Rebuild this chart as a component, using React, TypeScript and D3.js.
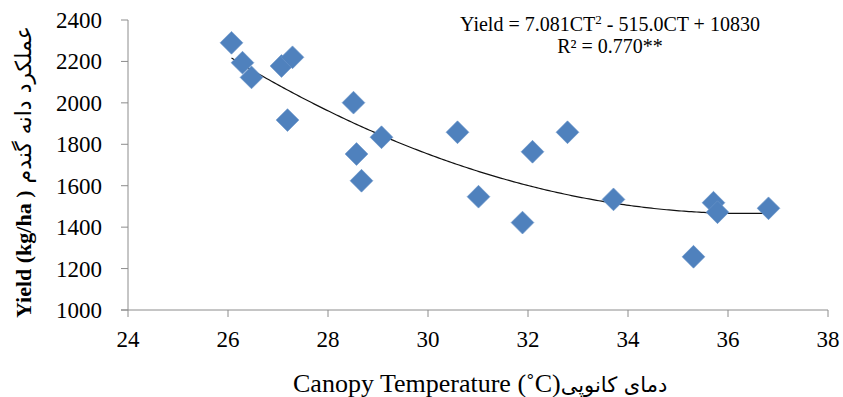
import React, { useEffect } from 'react';
import * as d3 from 'd3';

// canopy temperature (°C) and grain yield (kg/ha)
const temperature = [26.07, 26.29, 26.47, 27.07, 27.29, 27.19, 28.51, 28.57, 28.67, 29.07,
  30.59, 31.01, 31.89, 32.09, 32.79, 33.71, 35.31, 35.71, 35.79, 36.81];
const grainYield = [2290, 2194, 2123, 2178, 2220, 1917, 2001, 1753, 1624, 1834,
  1858, 1547, 1422, 1764, 1858, 1534, 1257, 1518, 1472, 1491];

const xTicks = [24, 26, 28, 30, 32, 34, 36, 38];
const yTicks = [1000, 1200, 1400, 1600, 1800, 2000, 2200, 2400];

// quadratic trend: a*CT^2 + b*CT + c
const trendCoef = [7.081, -515.0, 10830];

const W = 843;
const H = 397;
const serif = '"Liberation Serif", "Times New Roman", serif';
const arabic = '"DejaVu Sans", sans-serif';
const axisColor = '#8c8c8c';

export default function App() {
  useEffect(() => {
    document.body.style.margin = '0';
  }, []);

  const x = d3.scaleLinear().domain([24, 38]).range([128, 828]);
  const y = d3.scaleLinear().domain([1000, 2400]).range([310, 20]);

  const points = temperature.map((t, i) => ({ t, v: grainYield[i] }));

  const [a, b, c] = trendCoef;
  const tMin = d3.min(temperature) as number;
  const tMax = d3.max(temperature) as number;
  const curve = d3.range(tMin, tMax, 0.05).concat([tMax]).map(t => ({ t, v: a * t * t + b * t + c }));
  const line = d3.line<{ t: number; v: number }>().x(d => x(d.t)).y(d => y(d.v));

  const diamond = d3.symbol().type(d3.symbolSquare).size(260)();

  return (
    <svg width={W} height={H} style={{ display: 'block', background: '#fff' }}>
      {/* axes */}
      <line x1={x(24)} x2={x(24)} y1={y(2400)} y2={y(1000)} stroke={axisColor} strokeWidth={1} />
      <line x1={x(24) - 7} x2={x(38)} y1={y(1000)} y2={y(1000)} stroke={axisColor} strokeWidth={1} />
      {yTicks.map(v => (
        <g key={'y' + v}>
          <line x1={x(24) - 7} x2={x(24)} y1={y(v)} y2={y(v)} stroke={axisColor} />
          <text x={102} y={y(v)} dy="0.35em" textAnchor="end" fontFamily={serif} fontSize={23} fill="#000">{v}</text>
        </g>
      ))}
      {xTicks.map(t => (
        <g key={'x' + t}>
          <line x1={x(t)} x2={x(t)} y1={y(1000)} y2={y(1000) + 7} stroke={axisColor} />
          <text x={x(t)} y={347} textAnchor="middle" fontFamily={serif} fontSize={23} fill="#000">{t}</text>
        </g>
      ))}

      {/* trend line */}
      <path d={line(curve) as string} fill="none" stroke="#111" strokeWidth={1.2} />

      {/* points */}
      {points.map((p, i) => (
        <path key={i} d={diamond as string} transform={`translate(${x(p.t)},${y(p.v)}) rotate(45)`}
          fill="#4f81bd" stroke="#6a95c9" strokeWidth={0.6} />
      ))}

      {/* equation */}
      <text x={610} y={31} textAnchor="middle" fontFamily={serif} fontSize={20} fill="#000">
        Yield = 7.081CT<tspan dy={-7} fontSize={13}>2</tspan><tspan dy={7}> - 515.0CT + 10830</tspan>
      </text>
      <text x={610} y={53} textAnchor="middle" fontFamily={serif} fontSize={20} fill="#000">R² = 0.770**</text>

      {/* axis titles */}
      <text transform="translate(31,318) rotate(-90)" fontFamily={serif} fill="#000">
        <tspan fontSize={22} fontWeight="bold">Yield (kg/ha )</tspan>
        <tspan fontFamily={arabic} fontSize={22}> عملکرد دانه گندم</tspan>
      </text>
      <text x={293} y={392} fontFamily={serif} fontSize={26} fill="#000">
        Canopy Temperature (˚C)<tspan fontFamily={arabic} fontSize={21}>دمای کانوپی</tspan>
      </text>
    </svg>
  );
}
